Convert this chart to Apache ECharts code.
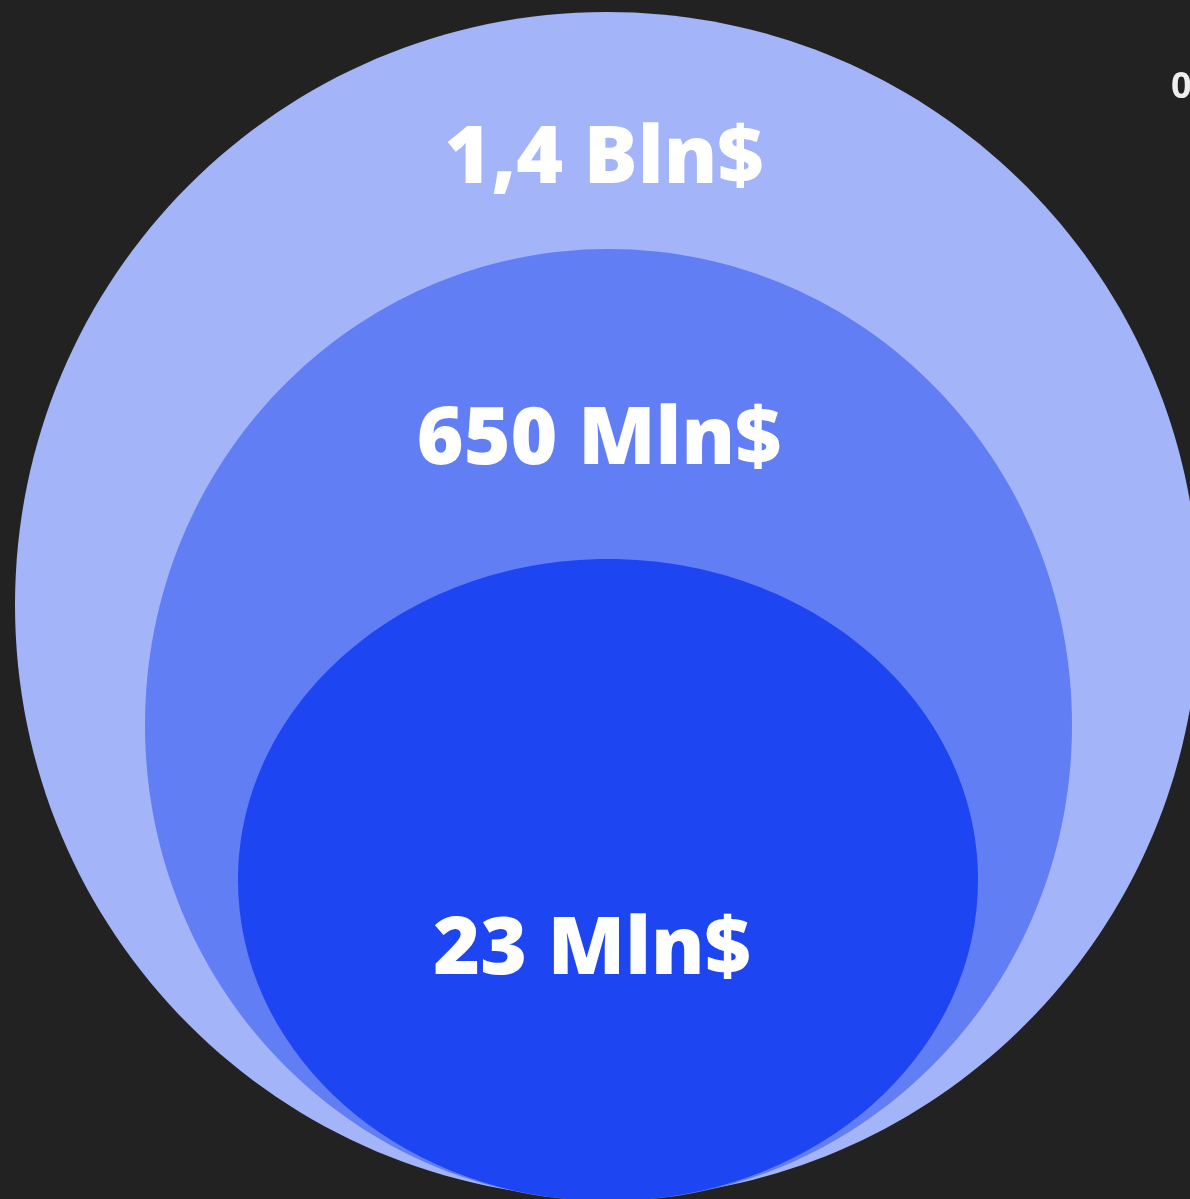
<!DOCTYPE html>
<html>
<head>
<meta charset="utf-8">
<script src="https://cdn.jsdelivr.net/npm/echarts@6/dist/echarts.min.js"></script>
<style>
html,body{margin:0;padding:0;background:#222222;}
#chart{width:1190px;height:1199px;}
</style>
</head>
<body>
<div id="chart"></div>
<script>
// Nested market-size bubbles
const categories = ['1,4 Bln$', '650 Mln$', '23 Mln$'];
const values = [1400, 650, 23];            // millions of $
// ellipse geometry in chart units (x: 0..1190, y: 0..1199 top-down)
const centerX = [607, 608.5, 608];
const centerY = [605, 725, 880];
const radiusX = [592, 463.5, 370];
const radiusY = [593, 476, 321];
const labelX = [604, 599, 592];
const labelY = [160, 441, 951];
const colors = ['#a3b4f9', '#617ef5', '#1e45f2'];

const data = categories.map((c, i) => [centerX[i], centerY[i], radiusX[i], radiusY[i], labelX[i], labelY[i], values[i], i]);

const chart = echarts.init(document.getElementById('chart'));
chart.setOption({
  backgroundColor: '#222222',
  animation: false,
  grid: {left: 0, right: 0, top: 0, bottom: 0},
  xAxis: {type: 'value', min: 0, max: 1190, show: false},
  yAxis: {type: 'value', min: 0, max: 1199, inverse: true, show: false},
  graphic: [{
    type: 'text', left: 1171, top: 70,
    style: {text: '0', fill: '#eeeeee', font: 'bold 36px "Open Sans", sans-serif'}
  }],
  series: [{
    type: 'custom',
    clip: false,
    coordinateSystem: 'cartesian2d',
    renderItem: function (params, api) {
      const i = api.value(7);
      const c = api.coord([api.value(0), api.value(1)]);
      const s = api.size([api.value(2), api.value(3)]);
      const l = api.coord([api.value(4), api.value(5)]);
      return {
        type: 'group',
        children: [{
          type: 'ellipse',
          shape: {cx: c[0], cy: c[1], rx: s[0], ry: s[1]},
          style: {fill: colors[i]}
        }, {
          type: 'text',
          z2: 10,
          style: {
            x: l[0], y: l[1],
            text: categories[i],
            fill: '#ffffff',
            font: '800 80px "Open Sans", sans-serif',
            textAlign: 'center',
            textVerticalAlign: 'middle'
          }
        }]
      };
    },
    data: data
  }]
});
</script>
</body>
</html>
